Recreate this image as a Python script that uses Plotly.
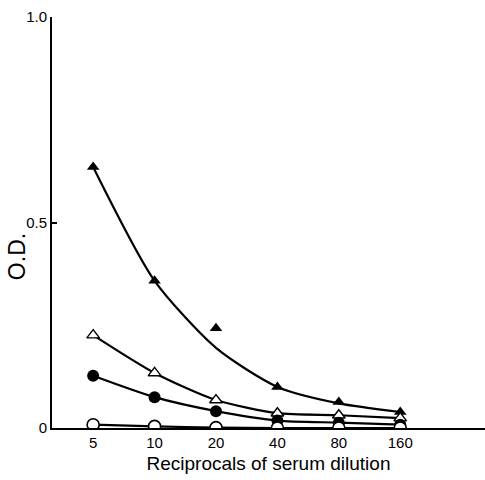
import plotly.graph_objects as go

dilutions = ["5", "10", "20", "40", "80", "160"]
idx = [0, 1, 2, 3, 4, 5]

tri_filled = [0.635, 0.358, 0.243, 0.100, 0.063, 0.039]
tri_filled_curve = [0.635, 0.358, 0.195, 0.100, 0.060, 0.039]
tri_open = [0.226, 0.134, 0.068, 0.036, 0.031, 0.024]
circ_filled = [0.127, 0.075, 0.041, 0.018, 0.013, 0.008]
circ_open = [0.008, 0.004, 0.001, 0.0, 0.0, 0.0]

fig = go.Figure()
line = dict(color="black", width=2.2, shape="spline", smoothing=0.7)

fig.add_trace(go.Scatter(x=idx, y=tri_filled_curve, mode="lines", line=line))
fig.add_trace(go.Scatter(x=idx, y=tri_filled, mode="markers",
                         marker=dict(symbol="triangle-up", size=11, color="black")))
fig.add_trace(go.Scatter(x=idx, y=tri_open, mode="lines+markers", line=line,
                         marker=dict(symbol="triangle-up", size=11, color="white",
                                     line=dict(color="black", width=1.4))))
fig.add_trace(go.Scatter(x=idx, y=circ_filled, mode="lines+markers", line=line,
                         marker=dict(symbol="circle", size=12, color="black")))
fig.add_trace(go.Scatter(x=idx, y=circ_open, mode="lines+markers", line=line,
                         marker=dict(symbol="circle", size=12, color="white",
                                     line=dict(color="black", width=1.6))))

fig.add_annotation(text="O.D.", xref="paper", yref="paper", x=-0.081, y=0.418,
                   textangle=-90, showarrow=False, xanchor="center", yanchor="middle",
                   font=dict(size=23, family="Liberation Sans, Arial, sans-serif", color="black"))

fig.update_layout(
    width=485, height=480,
    margin=dict(l=52, r=0, t=17, b=52),
    paper_bgcolor="white", plot_bgcolor="white",
    showlegend=False,
    font=dict(family="Liberation Sans, Arial, sans-serif", color="black", size=15),
    xaxis=dict(
        range=[-0.67, 6.38],
        tickmode="array", tickvals=idx, ticktext=dilutions,
        showgrid=False, zeroline=False,
        showline=True, linecolor="black", linewidth=2,
        ticks="", tickfont=dict(size=15),
        title=dict(text="Reciprocals of serum dilution",
                   font=dict(size=19), standoff=7),
    ),
    yaxis=dict(
        range=[0, 1.0],
        tickmode="array", tickvals=[0, 0.5, 1.0], ticktext=["0", "0.5", "1.0"],
        showgrid=False, zeroline=False,
        showline=True, linecolor="black", linewidth=2,
        ticks="inside", ticklen=5, tickwidth=1.8, tickcolor="black",
        tickfont=dict(size=15),
    ),
)

fig.write_html("out.html")
